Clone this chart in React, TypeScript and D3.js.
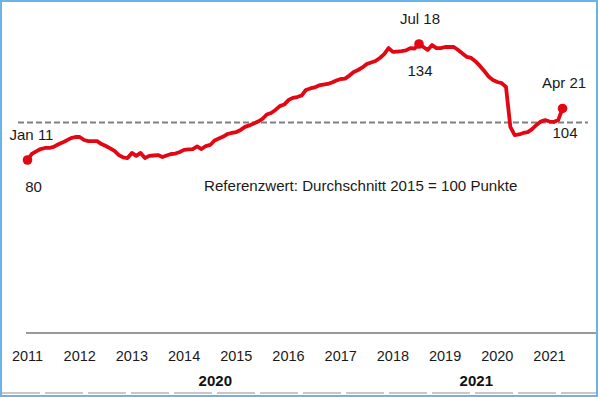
import * as d3 from 'd3';

// monthly index values, Jan 2011 .. Apr 2021 (2015 = 100)
const START_YEAR = 2011;
const VALUES: number[] = [
  // 2011
  80.0, 82.8, 84.0, 85.1, 85.6, 85.6, 86.1, 87.2, 88.1, 89.1, 90.2, 90.7,
  // 2012
  90.7, 89.3, 88.8, 88.8, 88.8, 87.4, 86.5, 85.4, 84.2, 82.3, 81.2, 80.9,
  // 2013
  83.3, 81.9, 83.3, 80.9, 81.9, 82.1, 82.3, 81.4, 82.1, 82.8, 83.0, 83.7,
  // 2014
  84.7, 84.9, 85.1, 86.3, 85.1, 86.5, 87.0, 89.1, 90.0, 90.9, 92.1, 92.6,
  // 2015
  93.0, 94.0, 95.4, 96.1, 97.0, 97.9, 99.1, 101.2, 101.9, 103.3, 105.1, 105.8,
  // 2016
  107.9, 108.9, 109.3, 110.0, 112.6, 113.3, 113.8, 114.7, 115.1, 115.4, 116.1, 117.0,
  // 2017
  117.7, 117.9, 119.3, 121.0, 121.9, 123.1, 124.7, 125.4, 126.1, 127.5, 129.3, 132.1,
  // 2018
  130.3, 130.5, 130.7, 131.0, 132.1, 131.9, 134.0, 132.6, 131.2, 133.5, 132.1, 132.1,
  // 2019
  132.6, 132.6, 132.6, 131.2, 129.6, 128.0, 127.5, 125.9, 123.8, 121.4, 118.9, 117.2,
  // 2020
  116.3, 115.8, 114.0, 95.4, 91.6, 91.9, 92.6, 93.0, 94.4, 96.3, 97.9, 98.6,
  // 2021
  97.9, 97.7, 98.6, 104.0,
];

const YEARS = d3.range(2011, 2022);
const PERIOD_LABELS = [
  { label: '2020', year: 2015 },
  { label: '2021', year: 2020 },
];
// highlighted points: month index, date label, value label
const HIGHLIGHTS: { i: number; date: string; val: string }[] = [
  { i: 0, date: 'Jan 11', val: '80' },
  { i: 90, date: 'Jul 18', val: '134' },
  { i: 123, date: 'Apr 21', val: '104' },
];
const REF_VALUE = 97.4; // dashed reference line (sits a bit under 100 in the original)
const NOTE = 'Referenzwert: Durchschnitt 2015 = 100 Punkte';

const W = 600, H = 397;
const FONT = '"Liberation Sans", Arial, sans-serif';
const RED = '#e30613';

export default function App() {
  const x = d3.scaleLinear().domain([0, 120]).range([27.5, 549.5]);
  const y = d3.scaleLinear().domain([80, 134]).range([160, 44]);

  const line = d3.line<number>()
    .x((_, i) => x(i))
    .y(d => y(d))
    .curve(d3.curveLinear);

  const yearX = (yr: number) => x((yr - START_YEAR) * 12);

  return (
    <>
      <style>{`body{margin:0}`}</style>
      <svg width={W} height={H} style={{ display: 'block', fontFamily: FONT }}>
        <rect x={0} y={0} width={W} height={H} fill="#fff" />

        {/* reference line */}
        <line x1={18} x2={588} y1={y(REF_VALUE)} y2={y(REF_VALUE)}
          stroke="#808080" strokeWidth={2} strokeDasharray="6 3" />

        {/* series */}
        <path d={line(VALUES) ?? ''} fill="none" stroke={RED} strokeWidth={3.8}
          strokeLinejoin="round" strokeLinecap="round" />

        {HIGHLIGHTS.map(h => (
          <circle key={h.i} cx={x(h.i)} cy={y(VALUES[h.i])} r={4.8} fill={RED} />
        ))}

        {/* annotations */}
        <g fontSize={15} fill="#1a1a1a" textAnchor="middle">
          <text x={31.5} y={140}>{HIGHLIGHTS[0].date}</text>
          <text x={33.5} y={192}>{HIGHLIGHTS[0].val}</text>
          <text x={420} y={24}>{HIGHLIGHTS[1].date}</text>
          <text x={420} y={76}>{HIGHLIGHTS[1].val}</text>
          <text x={564} y={88}>{HIGHLIGHTS[2].date}</text>
          <text x={565} y={138}>{HIGHLIGHTS[2].val}</text>
        </g>
        <text x={204} y={191} fontSize={15.1} fill="#1a1a1a">{NOTE}</text>

        {/* x axis */}
        <line x1={26} x2={598} y1={333} y2={333} stroke="#999" strokeWidth={2} />
        <g fontSize={14.5} fill="#1a1a1a" textAnchor="middle">
          {YEARS.map(yr => (
            <text key={yr} x={yearX(yr)} y={361}>{yr}</text>
          ))}
        </g>
        <g fontSize={15} fontWeight="bold" fill="#111" textAnchor="middle">
          {PERIOD_LABELS.map(p => (
            <text key={p.label} x={yearX(p.year) - 21} y={386}>{p.label}</text>
          ))}
        </g>

        {/* table cell edges at the bottom */}
        <line x1={2} x2={596} y1={393} y2={393} stroke="#c8c8c8" strokeWidth={2}
          strokeDasharray="38 5" />

        {/* frame */}
        <rect x={1} y={1} width={596} height={395} fill="none" stroke="#6ab4ea" strokeWidth={2} />
      </svg>
    </>
  );
}
